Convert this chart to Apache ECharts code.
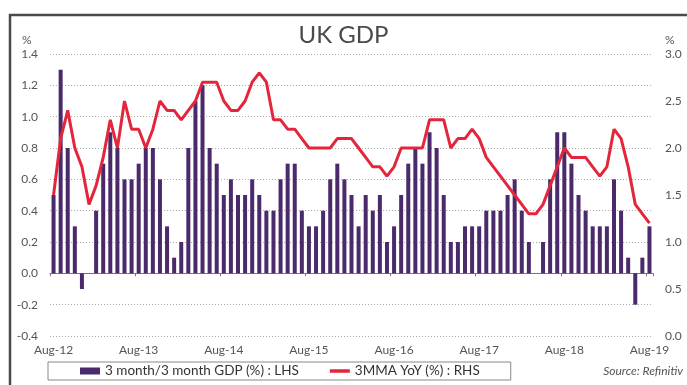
<!DOCTYPE html>
<html lang="en">
<head>
    <meta charset="UTF-8">
    <title>UK GDP</title>
    <script src="https://cdn.jsdelivr.net/npm/echarts@6/dist/echarts.min.js"></script>
    <style>
        html, body { margin: 0; padding: 0; background: #fff; }
        #main { width: 687px; height: 385px; }
    </style>
</head>
<body>
    <div id="main"></div>
    <script>
        // monthly, Aug-12 .. Aug-19
        const monthNames = ['Jan', 'Feb', 'Mar', 'Apr', 'May', 'Jun', 'Jul', 'Aug', 'Sep', 'Oct', 'Nov', 'Dec']
        const categories = []
        for (let y = 2012; y <= 2019; y++) {
            for (let m = 0; m < 12; m++) {
                if (y === 2012 && m < 7) continue
                if (y === 2019 && m > 7) continue
                categories.push(monthNames[m] + '-' + String(y).slice(2))
            }
        }

        // 3 month/3 month GDP (%) : LHS
        const gdp3m3m = [
            0.5, 1.3, 0.8, 0.3, -0.1,                                          // Aug-12 .. Dec-12
            0.0, 0.4, 0.7, 0.9, 0.8, 0.6, 0.6, 0.7, 0.8, 0.8, 0.6, 0.3,        // 2013
            0.1, 0.2, 0.8, 1.1, 1.2, 0.8, 0.7, 0.5, 0.6, 0.5, 0.5, 0.6,        // 2014
            0.5, 0.4, 0.4, 0.6, 0.7, 0.7, 0.4, 0.3, 0.3, 0.4, 0.6, 0.7,        // 2015
            0.6, 0.5, 0.3, 0.5, 0.4, 0.5, 0.2, 0.3, 0.5, 0.7, 0.8, 0.7,        // 2016
            0.9, 0.8, 0.5, 0.2, 0.2, 0.3, 0.3, 0.3, 0.4, 0.4, 0.4, 0.5,        // 2017
            0.6, 0.4, 0.2, 0.0, 0.2, 0.6, 0.9, 0.9, 0.7, 0.5, 0.4, 0.3,        // 2018
            0.3, 0.3, 0.6, 0.4, 0.1, -0.2, 0.1, 0.3                            // 2019
        ]

        // 3MMA YoY (%) : RHS
        const gdpYoY = [
            1.5, 2.1, 2.4, 2.0, 1.8,
            1.4, 1.6, 1.9, 2.3, 2.0, 2.5, 2.2, 2.2, 2.0, 2.2, 2.5, 2.4,
            2.4, 2.3, 2.4, 2.5, 2.7, 2.7, 2.7, 2.5, 2.4, 2.4, 2.5, 2.7,
            2.8, 2.7, 2.3, 2.3, 2.2, 2.2, 2.1, 2.0, 2.0, 2.0, 2.0, 2.1,
            2.1, 2.1, 2.0, 1.9, 1.8, 1.8, 1.7, 1.8, 2.0, 2.0, 2.0, 2.0,
            2.3, 2.3, 2.3, 2.0, 2.1, 2.1, 2.2, 2.1, 1.9, 1.8, 1.7, 1.6,
            1.5, 1.4, 1.3, 1.3, 1.4, 1.6, 1.8, 2.0, 1.9, 1.9, 1.9, 1.8,
            1.7, 1.8, 2.2, 2.1, 1.8, 1.4, 1.3, 1.2
        ]

        const barName = '3 month/3 month GDP (%) : LHS'
        const lineName = '3MMA YoY (%) : RHS'

        const font = 'Lato, "Open Sans", sans-serif'
        const labelColor = '#555'

        let chart = echarts.init(document.getElementById('main'))

        chart.setOption({
            animation: false,
            textStyle: { fontFamily: font },
            title: {
                text: 'UK GDP',
                left: 'center',
                top: 18,
                textStyle: { fontSize: 24, fontWeight: 'normal', color: '#4a4a4a', fontFamily: font }
            },
            grid: { left: 50, right: 34, top: 54, bottom: 49 },
            legend: {
                left: 48,
                top: 362,
                padding: [2, 31, 2, 32],
                itemGap: 31,
                itemWidth: 20,
                itemHeight: 7,
                borderColor: '#888',
                borderWidth: 1,
                borderRadius: 0,
                textStyle: { color: '#333', fontSize: 13.5, fontFamily: font },
                data: [
                    { name: barName, icon: 'rect' },
                    { name: lineName, icon: 'path://M0,0h20v3.5h-20z' }
                ]
            },
            graphic: [
                {
                    type: 'rect',
                    silent: true,
                    shape: { x: 10, y: 15, width: 720, height: 420 },
                    style: { fill: 'none', stroke: '#4a4a4a', lineWidth: 2.5 }
                },
                {
                    type: 'text', left: 22, top: 34, silent: true,
                    style: { text: '%', fill: labelColor, fontSize: 12, fontFamily: font }
                },
                {
                    type: 'text', left: 665, top: 34, silent: true,
                    style: { text: '%', fill: labelColor, fontSize: 12, fontFamily: font }
                },
                {
                    type: 'text', right: 4, top: 365, silent: true,
                    style: { text: 'Source: Refinitiv', fill: '#555', fontSize: 12, fontStyle: 'italic', fontFamily: font }
                }
            ],
            xAxis: [
                {
                    type: 'category',
                    data: categories,
                    position: 'bottom',
                    axisLine: { show: false, onZero: false },
                    axisTick: { show: false },
                    axisLabel: { interval: 11, color: labelColor, fontSize: 12, margin: 8 }
                },
                {
                    // zero line with yearly ticks
                    type: 'category',
                    data: categories,
                    position: 'bottom',
                    axisLine: { show: true, onZero: true, onZeroAxisIndex: 0, lineStyle: { color: '#777', width: 1 } },
                    axisTick: { show: true, interval: 11, length: 3, lineStyle: { color: '#777' } },
                    axisLabel: { show: false },
                    splitLine: { show: false }
                }
            ],
            yAxis: [
                {
                    type: 'value',
                    position: 'left',
                    min: -0.4,
                    max: 1.4,
                    interval: 0.2,
                    axisLine: { show: false },
                    axisTick: { show: false },
                    axisLabel: { color: labelColor, fontSize: 12, margin: 12, formatter: v => v.toFixed(1) },
                    splitLine: { show: true, lineStyle: { color: '#aaa', type: [1, 2], width: 1 } }
                },
                {
                    type: 'value',
                    position: 'right',
                    min: 0,
                    max: 3,
                    interval: 0.5,
                    axisLine: { show: false },
                    axisTick: { show: false },
                    axisLabel: { color: labelColor, fontSize: 12, margin: 12, formatter: v => v.toFixed(1) },
                    splitLine: { show: false }
                }
            ],
            series: [
                {
                    name: barName,
                    type: 'bar',
                    xAxisIndex: 0,
                    yAxisIndex: 0,
                    data: gdp3m3m,
                    barWidth: 4,
                    itemStyle: { color: '#4b2a6b' }
                },
                {
                    name: lineName,
                    type: 'line',
                    xAxisIndex: 0,
                    yAxisIndex: 1,
                    data: gdpYoY,
                    symbol: 'none',
                    itemStyle: { color: '#e3263b' },
                    lineStyle: { color: '#e3263b', width: 3 }
                }
            ]
        })
    </script>
</body>
</html>
